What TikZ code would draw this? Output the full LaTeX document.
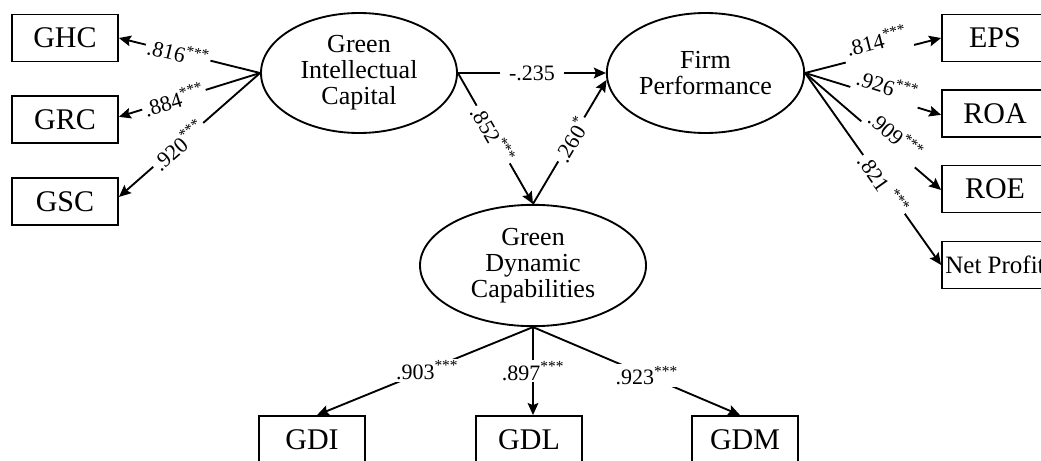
\documentclass[tikz,border=0pt]{standalone}
\usepackage{fontspec}
\setmainfont{Liberation Serif}
\usetikzlibrary{arrows.meta,shapes.geometric}
\begin{document}
\begin{tikzpicture}[x=0.75pt,y=-0.75pt,
  lat/.style={ellipse,draw,line width=1.4pt,inner sep=0pt,align=center,font=\fontsize{19.5}{19.5}\selectfont},
  obs/.style={rectangle,draw,line width=1.4pt,minimum width=79.5pt,minimum height=35.25pt,inner sep=0pt,font=\fontsize{22.5}{24}\selectfont},
  link/.style={line width=1.4pt,-{Stealth[length=9pt,width=8pt,inset=1.5pt]}},
  coef/.style={fill=white,inner sep=1.5pt,font=\fontsize{16.5}{18}\selectfont},
  coefup/.style={coef,inner xsep=3pt,inner ysep=3pt},
]
\useasboundingbox (0,0) rectangle (1041,460);
\clip (0,0) rectangle (1041,460);

% observed indicators
\node[obs] (GHC) at (65,38) {GHC};
\node[obs] (GRC) at (65,119.5) {GRC};
\node[obs] (GSC) at (65,201.5) {GSC};
\node[obs] (EPS) at (995,38) {EPS};
\node[obs] (ROA) at (995,113.5) {ROA};
\node[obs] (ROE) at (995,189) {ROE};
\node[obs,font=\fontsize{18.75}{20}\selectfont] (NP) at (995,265) {Net Profit};
\node[obs] (GDI) at (312,439.5) {GDI};
\node[obs] (GDL) at (529,439.5) {GDL};
\node[obs] (GDM) at (745,439.5) {GDM};

% latent constructs
\node[lat,minimum width=147pt,minimum height=90pt] (GIC) at (359,73) {Green\\Intellectual\\Capital};
\node[lat,minimum width=148pt,minimum height=90pt] (FP) at (705.5,73) {Firm\\Performance};
\node[lat,minimum width=169.5pt,minimum height=91pt] (GDC) at (533,265.5) {Green\\Dynamic\\Capabilities};

% GIC loadings
\draw[link] (GIC.west) -- node[coef,sloped,pos=0.58] {.816\textsuperscript{***}} (GHC.east);
\draw[link] (GIC.west) -- node[coef,sloped,pos=0.61] {.884\textsuperscript{***}} ([yshift=2pt]GRC.east);
\draw[link] (GIC.west) -- node[coef,sloped,pos=0.58] {.920\textsuperscript{***}} ([yshift=3.4pt]GSC.east);

% FP loadings
\draw[link] (FP.east) -- node[coefup,sloped,pos=0.55] {\raisebox{3.5pt}[0pt][0pt]{.814\textsuperscript{***}}} (EPS.west);
\draw[link] (FP.east) -- node[coefup,sloped,pos=0.58] {\raisebox{2.5pt}[0pt][0pt]{.926\textsuperscript{***}}} ([yshift=-1pt]ROA.west);
\draw[link] (FP.east) -- node[coefup,sloped,pos=0.61] {\raisebox{2.5pt}[0pt][0pt]{.909\textsuperscript{***}}} ([yshift=-0.75pt]ROE.west);
\draw[link] (FP.east) -- node[coef,sloped,pos=0.58] {.821 \textsuperscript{***}} (NP.west);

% structural paths
\draw[link] (GIC.east) -- node[coef,inner xsep=7pt] {-.235} (FP.west);
\draw[link] (GIC.east) -- node[coef,sloped,pos=0.47] {.852\textsuperscript{***}} (GDC.north);
\draw[link] (GDC.north) -- node[coef,sloped,pos=0.52] {.260\textsuperscript{*}} (FP.184);

% GDC loadings
\draw[link] (GDC.south) -- node[coef,pos=0.49] {.903\textsuperscript{***}} ([xshift=3.75pt]GDI.north);
\draw[link] (GDC.south) -- node[coef,pos=0.5] {.897\textsuperscript{***}} (GDC.south |- GDL.north);
\draw[link] (GDC.south) -- node[coef,pos=0.55] {.923\textsuperscript{***}} ([xshift=-3.75pt]GDM.north);
\end{tikzpicture}
\end{document}
